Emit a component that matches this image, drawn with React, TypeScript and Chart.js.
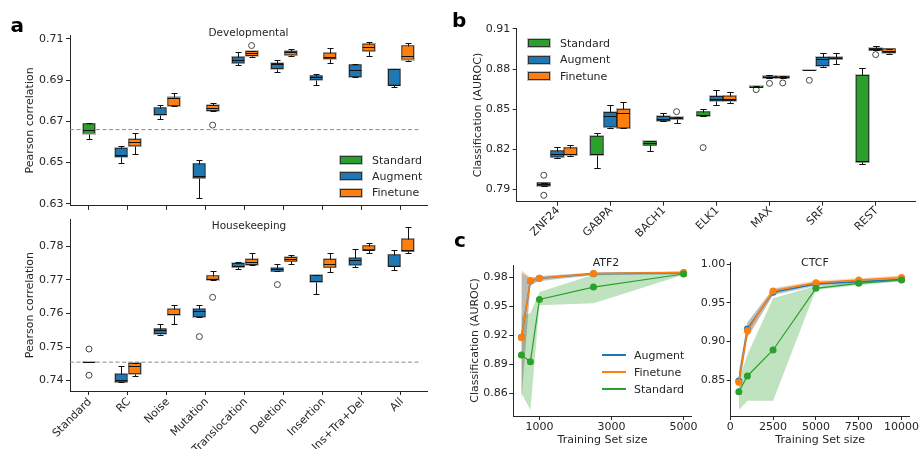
import React, { useEffect, useRef } from 'react';
import { Chart, registerables } from 'chart.js';

Chart.register(...registerables);

const FONT = "'DejaVu Sans', 'Liberation Sans', sans-serif";
const TEXT = '#262626';
const BLUE = '#1f77b4';
const ORANGE = '#ff7f0e';
const GREEN = '#2ca02c';

// ---------------- Panel a ----------------
const augmentationCategories = ['Standard', 'RC', 'Noise', 'Mutation', 'Translocation', 'Deletion', 'Insertion', 'Ins+Tra+Del', 'All'];

// box stats: [lower whisker, Q1, median, Q3, upper whisker]
const developmentalTicks = [0.63, 0.65, 0.67, 0.69, 0.71];
const developmentalBaseline = 0.666;
const developmentalStandard = [[0.6613, 0.6641, 0.666, 0.6689, 0.6694], null, null, null, null, null, null, null, null];
const developmentalAugment = [
  null,
  [0.6498, 0.6527, 0.6537, 0.657, 0.6581],
  [0.6713, 0.6733, 0.6738, 0.6767, 0.6781],
  [0.6329, 0.6424, 0.6433, 0.6495, 0.6513],
  [0.6975, 0.6982, 0.6997, 0.7013, 0.7037],
  [0.694, 0.6956, 0.6976, 0.6982, 0.6998],
  [0.6876, 0.6901, 0.6916, 0.6922, 0.6929],
  [0.6913, 0.6916, 0.6949, 0.6975, 0.6977],
  [0.6865, 0.6875, 0.6876, 0.6952, 0.6954],
];
const developmentalFinetune = [
  null,
  [0.6541, 0.658, 0.66, 0.6614, 0.6643],
  [0.6775, 0.6775, 0.6814, 0.6816, 0.6837],
  [0.6752, 0.6752, 0.6767, 0.6778, 0.6789],
  [0.7013, 0.7019, 0.7032, 0.704, 0.704],
  [0.7019, 0.7021, 0.7035, 0.7041, 0.7052],
  [0.6981, 0.7003, 0.7013, 0.7033, 0.7056],
  [0.7016, 0.704, 0.706, 0.7076, 0.7084],
  [0.6994, 0.7, 0.7016, 0.7068, 0.7079],
];
const developmentalStandardOutliers = [[], [], [], [], [], [], [], [], []];
const developmentalAugmentOutliers = [[], [], [], [], [], [], [], [], []];
const developmentalFinetuneOutliers = [[], [], [], [0.6682], [0.7068], [], [], [], []];

const housekeepingTicks = [0.74, 0.75, 0.76, 0.77, 0.78];
const housekeepingBaseline = 0.7455;
const housekeepingStandard = [[0.7455, 0.7455, 0.7455, 0.7455, 0.7455], null, null, null, null, null, null, null, null];
const housekeepingAugment = [
  null,
  [0.7395, 0.7395, 0.7403, 0.742, 0.7444],
  [0.7535, 0.754, 0.755, 0.7555, 0.7569],
  [0.759, 0.759, 0.7606, 0.7614, 0.7624],
  [0.7732, 0.7738, 0.774, 0.7749, 0.7752],
  [0.7725, 0.7725, 0.7733, 0.7736, 0.7748],
  [0.7658, 0.7694, 0.7696, 0.7714, 0.7714],
  [0.7737, 0.7744, 0.7759, 0.7766, 0.7792],
  [0.773, 0.774, 0.7742, 0.7775, 0.7788],
];
const housekeepingFinetune = [
  null,
  [0.7414, 0.742, 0.7443, 0.7452, 0.7453],
  [0.7569, 0.7596, 0.7599, 0.7614, 0.7624],
  [0.7701, 0.7701, 0.7703, 0.7713, 0.7725],
  [0.7744, 0.7745, 0.7752, 0.7762, 0.778],
  [0.7748, 0.7755, 0.7762, 0.7767, 0.7775],
  [0.7722, 0.7737, 0.7746, 0.7762, 0.778],
  [0.778, 0.7789, 0.779, 0.7802, 0.781],
  [0.7781, 0.7785, 0.7788, 0.7822, 0.7857],
];
const housekeepingStandardOutliers = [[0.7494, 0.7416], [], [], [], [], [], [], [], []];
const housekeepingAugmentOutliers = [[], [], [], [0.7531], [], [0.7686], [], [], []];
const housekeepingFinetuneOutliers = [[], [], [], [0.7648], [], [], [], [], []];

// ---------------- Panel b ----------------
const tfCategories = ['ZNF24', 'GABPA', 'BACH1', 'ELK1', 'MAX', 'SRF', 'REST'];
const tfTicks = [0.79, 0.82, 0.85, 0.88, 0.91];
const tfStandard = [
  [0.7925, 0.7925, 0.7937, 0.795, 0.795],
  [0.8057, 0.8157, 0.8162, 0.8299, 0.8319],
  [0.8189, 0.8229, 0.8244, 0.8259, 0.8259],
  [0.8449, 0.8449, 0.8459, 0.8481, 0.8499],
  [0.8663, 0.8663, 0.8668, 0.8673, 0.8673],
  [0.8793, 0.8793, 0.8793, 0.8793, 0.8793],
  [0.809, 0.8102, 0.811, 0.8753, 0.8806],
];
const tfAugment = [
  [0.8135, 0.814, 0.8164, 0.8189, 0.8214],
  [0.8359, 0.8364, 0.8446, 0.8476, 0.8531],
  [0.8411, 0.8411, 0.8424, 0.8446, 0.8474],
  [0.8529, 0.8561, 0.8576, 0.8596, 0.8641],
  [0.873, 0.8733, 0.8738, 0.8748, 0.8752],
  [0.8816, 0.8826, 0.8878, 0.8888, 0.8918],
  [0.894, 0.894, 0.8948, 0.8955, 0.897],
];
const tfFinetune = [
  [0.8147, 0.8157, 0.8164, 0.8212, 0.8234],
  [0.8357, 0.8357, 0.8474, 0.8501, 0.8551],
  [0.8399, 0.8424, 0.8434, 0.8441, 0.8441],
  [0.8544, 0.8564, 0.8579, 0.8599, 0.8626],
  [0.8733, 0.8733, 0.8741, 0.8746, 0.8748],
  [0.8838, 0.8873, 0.8883, 0.889, 0.8923],
  [0.8915, 0.8923, 0.8938, 0.8953, 0.8953],
];
const tfStandardOutliers = [[0.8005, 0.7855], [], [], [0.8212], [0.8646], [0.8716], []];
const tfAugmentOutliers = [[], [], [], [], [0.8693], [], [0.8908]];
const tfFinetuneOutliers = [[], [], [0.8481], [], [0.8696], [], []];

// ---------------- Panel c ----------------
const atf2Sizes = [500, 750, 1000, 2500, 5000];
const atf2XTicks = [1000, 3000, 5000];
const atf2YTicks = [0.86, 0.89, 0.92, 0.95, 0.98];
const atf2Augment = [0.918, 0.9762, 0.979, 0.9837, 0.9848];
const atf2AugmentLow = [0.855, 0.972, 0.976, 0.982, 0.983];
const atf2AugmentHigh = [0.985, 0.979, 0.981, 0.985, 0.986];
const atf2Finetune = [0.9178, 0.9765, 0.979, 0.9838, 0.985];
const atf2FinetuneLow = [0.85, 0.972, 0.977, 0.982, 0.984];
const atf2FinetuneHigh = [0.9875, 0.98, 0.981, 0.985, 0.986];
const atf2Standard = [0.8996, 0.8927, 0.9571, 0.9699, 0.9834];
const atf2StandardLow = [0.86, 0.8427, 0.951, 0.9531, 0.9825];
const atf2StandardHigh = [0.9403, 0.9428, 0.9647, 0.9825, 0.9845];

const ctcfSizes = [500, 1000, 2500, 5000, 7500, 10000];
const ctcfXTicks = [0, 2500, 5000, 7500, 10000];
const ctcfYTicks = [0.85, 0.9, 0.95, 1.0];
const ctcfAugment = [0.8491, 0.9163, 0.964, 0.9745, 0.9775, 0.9805];
const ctcfAugmentLow = [0.838, 0.906, 0.96, 0.972, 0.975, 0.978];
const ctcfAugmentHigh = [0.86, 0.925, 0.968, 0.977, 0.98, 0.983];
const ctcfFinetune = [0.8474, 0.9141, 0.9655, 0.9762, 0.9798, 0.983];
const ctcfFinetuneLow = [0.836, 0.904, 0.961, 0.974, 0.977, 0.98];
const ctcfFinetuneHigh = [0.862, 0.924, 0.969, 0.979, 0.982, 0.986];
const ctcfStandard = [0.8353, 0.8556, 0.8892, 0.969, 0.9754, 0.9797];
const ctcfStandardLow = [0.8116, 0.8236, 0.8236, 0.967, 0.973, 0.978];
const ctcfStandardHigh = [0.85, 0.883, 0.956, 0.972, 0.977, 0.981];

// ---------------- helpers ----------------
const boxPlugin = {
  id: 'boxWhiskers',
  beforeDatasetsDraw(chart: any) {
    const ctx = chart.ctx;
    chart.data.datasets.forEach((ds: any, di: number) => {
      if (!ds.stats) return;
      const meta = chart.getDatasetMeta(di);
      meta.data.forEach((el: any) => {
        const p = el.getProps(['x', 'y', 'base', 'width'], true);
        const t = Math.round(Math.min(p.y, p.base));
        const b = Math.round(Math.max(p.y, p.base));
        const l = Math.round(p.x - p.width / 2);
        const w = Math.round(p.width);
        ctx.save();
        ctx.strokeStyle = 'rgba(140,140,140,0.55)';
        ctx.lineWidth = 1;
        ctx.strokeRect(l - 0.5, t - 0.5, w + 1, b - t + 1);
        ctx.restore();
      });
    });
  },
  afterDatasetsDraw(chart: any) {
    const ctx = chart.ctx;
    const ys = chart.scales.y;
    chart.data.datasets.forEach((ds: any, di: number) => {
      if (!ds.stats) return;
      const meta = chart.getDatasetMeta(di);
      meta.data.forEach((el: any, i: number) => {
        const st = ds.stats[i];
        const { x, width } = el.getProps(['x', 'width'], true);
        const py = (v: number) => Math.round(ys.getPixelForValue(v)) + 0.5;
        const cx = Math.round(x) + 0.5;
        const cap = width / 4;
        ctx.save();
        ctx.strokeStyle = '#111';
        ctx.lineWidth = 1;
        ctx.beginPath();
        ctx.moveTo(cx, py(st[3]));
        ctx.lineTo(cx, py(st[4]));
        ctx.moveTo(cx - cap, py(st[4]));
        ctx.lineTo(cx + cap, py(st[4]));
        ctx.moveTo(cx, py(st[1]));
        ctx.lineTo(cx, py(st[0]));
        ctx.moveTo(cx - cap, py(st[0]));
        ctx.lineTo(cx + cap, py(st[0]));
        ctx.stroke();
        ctx.beginPath();
        ctx.moveTo(x - width / 2, py(st[2]));
        ctx.lineTo(x + width / 2, py(st[2]));
        ctx.stroke();
        ctx.restore();
      });
    });
  },
};

type BoxSeries = { stats: (number[] | null)[]; outliers: number[][]; offset: number; color: string };
type BoxSpec = {
  left: number; top: number; width: number; height: number;
  padTop: number; padRight: number; yWidth: number; xHeight: number;
  xMin: number; xMax: number; yMin: number; yMax: number;
  categories: string[]; showXLabels: boolean; xLabelPad: number; xLabelShift: number;
  yTicks: number[]; yTitle: string; yTitlePad: number;
  series: BoxSeries[]; boxWidth: number; baseline?: number; baselineEnd?: number;
};

function axisCommon() {
  return {
    grid: { display: true, drawOnChartArea: false, drawTicks: true, tickLength: 4, color: TEXT, lineWidth: 1 },
    border: { display: true, color: TEXT, width: 1 },
  };
}

function BoxPanel({ spec }: { spec: BoxSpec }) {
  const ref = useRef<HTMLCanvasElement>(null);
  useEffect(() => {
    const datasets: any[] = [];
    spec.series.forEach((s) => {
      const data: any[] = [];
      const stats: number[][] = [];
      s.stats.forEach((st, i) => {
        if (st) {
          data.push({ x: i + s.offset, y: [st[1], st[3]] });
          stats.push(st);
        }
      });
      datasets.push({
        type: 'bar', data, stats, backgroundColor: s.color, borderColor: '#222', borderWidth: 1,
        borderSkipped: false, grouped: false, barThickness: spec.boxWidth, maxBarThickness: spec.boxWidth, order: 3,
      });
      const od: any[] = [];
      s.outliers.forEach((arr, i) => arr.forEach((v) => od.push({ x: i + s.offset, y: v })));
      if (od.length) {
        datasets.push({
          type: 'scatter', data: od, pointRadius: 3, pointBorderColor: '#444', pointBackgroundColor: 'rgba(0,0,0,0)',
          pointBorderWidth: 1, showLine: false, order: 1,
        });
      }
    });
    if (spec.baseline != null) {
      datasets.push({
        type: 'line', data: [{ x: spec.xMin, y: spec.baseline }, { x: spec.baselineEnd, y: spec.baseline }],
        borderColor: '#8a8a8a', borderWidth: 1, borderDash: [4, 2.5], pointRadius: 0, fill: false, order: 9,
      });
    }
    const chart = new Chart(ref.current as HTMLCanvasElement, {
      type: 'bar',
      data: { datasets },
      options: {
        animation: false,
        responsive: false,
        devicePixelRatio: 1,
        events: [],
        layout: { padding: { left: 0, top: spec.padTop, right: spec.padRight, bottom: 0 } },
        plugins: { legend: { display: false }, tooltip: { enabled: false } },
        scales: {
          x: {
            type: 'linear', min: spec.xMin, max: spec.xMax, offset: false,
            afterBuildTicks: (s: any) => { s.ticks = spec.categories.map((_, i) => ({ value: i })); },
            afterFit: (s: any) => { s.height = spec.xHeight; },
            ticks: {
              display: spec.showXLabels, autoSkip: false, minRotation: 45, maxRotation: 45, padding: spec.xLabelPad,
              labelOffset: spec.xLabelShift,
              color: TEXT, font: { family: FONT, size: 11 },
              callback: (v: any) => spec.categories[Math.round(Number(v))],
            },
            ...axisCommon(),
            grid: { ...axisCommon().grid, offset: false },
          },
          y: {
            type: 'linear', min: spec.yMin, max: spec.yMax,
            afterBuildTicks: (s: any) => { s.ticks = spec.yTicks.map((v) => ({ value: v })); },
            afterFit: (s: any) => { s.width = spec.yWidth; },
            ticks: { padding: 2.5, color: TEXT, font: { family: FONT, size: 11 }, callback: (v: any) => Number(v).toFixed(2) },
            ...axisCommon(),
            title: { display: true, text: spec.yTitle, color: TEXT, font: { family: FONT, size: 11 }, padding: { top: spec.yTitlePad, bottom: 0 } },
          },
        },
      } as any,
      plugins: [boxPlugin],
    } as any);
    return () => chart.destroy();
  }, []);
  return (
    <canvas ref={ref} width={spec.width} height={spec.height}
      style={{ position: 'absolute', left: spec.left, top: spec.top, width: spec.width, height: spec.height }} />
  );
}

type LineSeries = { mean: number[]; low: number[]; high: number[]; color: string; band: string; lineWidth: number; order: number };
type LineSpec = {
  left: number; top: number; width: number; height: number;
  padTop: number; padRight: number; yWidth: number; xHeight: number;
  xMin: number; xMax: number; yMin: number; yMax: number;
  sizes: number[]; xTicks: number[]; yTicks: number[]; yTitle?: string; yTitlePad: number; xTitle: string; xTitlePad: number;
  series: LineSeries[];
};

function LinePanel({ spec }: { spec: LineSpec }) {
  const ref = useRef<HTMLCanvasElement>(null);
  useEffect(() => {
    const datasets: any[] = [];
    spec.series.forEach((s) => {
      datasets.push({
        type: 'line', data: spec.sizes.map((x, i) => ({ x, y: s.low[i] })), borderWidth: 0, pointRadius: 0, fill: false, order: 20,
      });
      datasets.push({
        type: 'line', data: spec.sizes.map((x, i) => ({ x, y: s.high[i] })), borderWidth: 0, pointRadius: 0,
        fill: '-1', backgroundColor: s.band, order: 20,
      });
    });
    spec.series.forEach((s) => {
      datasets.push({
        type: 'line', data: spec.sizes.map((x, i) => ({ x, y: s.mean[i] })), borderColor: s.color, borderWidth: s.lineWidth,
        pointRadius: 3.5, pointBackgroundColor: s.color, pointBorderColor: s.color, pointBorderWidth: 0, fill: false,
        tension: 0, order: s.order,
      });
    });
    const chart = new Chart(ref.current as HTMLCanvasElement, {
      type: 'line',
      data: { datasets },
      options: {
        animation: false,
        responsive: false,
        devicePixelRatio: 1,
        events: [],
        layout: { padding: { left: 0, top: spec.padTop, right: spec.padRight, bottom: 0 } },
        plugins: { legend: { display: false }, tooltip: { enabled: false }, filler: { drawTime: 'beforeDatasetsDraw' } },
        scales: {
          x: {
            type: 'linear', min: spec.xMin, max: spec.xMax,
            afterBuildTicks: (s: any) => { s.ticks = spec.xTicks.map((v) => ({ value: v })); },
            afterFit: (s: any) => { s.height = spec.xHeight; },
            ticks: { padding: 0.5, maxRotation: 0, autoSkip: false, color: TEXT, font: { family: FONT, size: 11 }, callback: (v: any) => String(v) },
            ...axisCommon(),
            title: { display: true, text: spec.xTitle, color: TEXT, font: { family: FONT, size: 11 }, padding: { top: 0, bottom: spec.xTitlePad } },
          },
          y: {
            type: 'linear', min: spec.yMin, max: spec.yMax,
            afterBuildTicks: (s: any) => { s.ticks = spec.yTicks.map((v) => ({ value: v })); },
            afterFit: (s: any) => { s.width = spec.yWidth; },
            ticks: { padding: 1.5, color: TEXT, font: { family: FONT, size: 11 }, callback: (v: any) => Number(v).toFixed(2) },
            ...axisCommon(),
            title: { display: !!spec.yTitle, text: spec.yTitle || '', color: TEXT, font: { family: FONT, size: 11 }, padding: { top: spec.yTitlePad, bottom: 0 } },
          },
        },
      } as any,
    } as any);
    return () => chart.destroy();
  }, []);
  return (
    <canvas ref={ref} width={spec.width} height={spec.height}
      style={{ position: 'absolute', left: spec.left, top: spec.top, width: spec.width, height: spec.height }} />
  );
}

function Label({ x, y, size, children, bold, align }: any) {
  const style: any = {
    position: 'absolute', top: y - size / 2, fontSize: size, lineHeight: `${size}px`, fontFamily: FONT,
    color: TEXT, whiteSpace: 'nowrap', fontWeight: bold ? 'bold' : 'normal',
  };
  if (align === 'center') {
    style.left = x - 200; style.width = 400; style.textAlign = 'center';
  } else {
    style.left = x;
  }
  return <div style={style}>{children}</div>;
}

function PatchLegend({ x, y, items }: any) {
  return (
    <>
      {items.map((it: any, i: number) => (
        <React.Fragment key={it.label}>
          <div style={{
            position: 'absolute', left: x, top: y + i * 16.4 - 4, width: 22, height: 8, boxSizing: 'border-box',
            background: it.color, border: '1px solid #333', boxShadow: '0 0 0 1px rgba(140,140,140,0.55)',
          }} />
          <Label x={x + 32} y={y + i * 16.4} size={11}>{it.label}</Label>
        </React.Fragment>
      ))}
    </>
  );
}

function LineLegend({ x, y, items }: any) {
  return (
    <>
      {items.map((it: any, i: number) => (
        <React.Fragment key={it.label}>
          <div style={{ position: 'absolute', left: x, top: y + i * 17 - 1, width: 24, height: 2, background: it.color }} />
          <Label x={x + 32} y={y + i * 17} size={11}>{it.label}</Label>
        </React.Fragment>
      ))}
    </>
  );
}

const devSpec: BoxSpec = {
  left: 0, top: 0, width: 440, height: 215, padTop: 35, padRight: 13, yWidth: 70, xHeight: 6,
  xMin: -0.487, xMax: 8.667, yMin: 0.629, yMax: 0.7119,
  categories: augmentationCategories, showXLabels: false, xLabelPad: 2, xLabelShift: 0,
  yTicks: developmentalTicks, yTitle: 'Pearson correlation', yTitlePad: 23.4,
  boxWidth: 12, baseline: developmentalBaseline, baselineEnd: 8.5,
  series: [
    { stats: developmentalStandard, outliers: developmentalStandardOutliers, offset: 0, color: GREEN },
    { stats: developmentalAugment, outliers: developmentalAugmentOutliers, offset: -0.17, color: BLUE },
    { stats: developmentalFinetune, outliers: developmentalFinetuneOutliers, offset: 0.17, color: ORANGE },
  ],
};

const houseSpec: BoxSpec = {
  left: 0, top: 210, width: 440, height: 239, padTop: 6, padRight: 13, yWidth: 70, xHeight: 58,
  xMin: -0.487, xMax: 8.667, yMin: 0.7369, yMax: 0.7881,
  categories: augmentationCategories, showXLabels: true, xLabelPad: 0.5, xLabelShift: 1,
  yTicks: housekeepingTicks, yTitle: 'Pearson correlation', yTitlePad: 23.4,
  boxWidth: 12, baseline: housekeepingBaseline, baselineEnd: 8.52,
  series: [
    { stats: housekeepingStandard, outliers: housekeepingStandardOutliers, offset: 0, color: GREEN },
    { stats: housekeepingAugment, outliers: housekeepingAugmentOutliers, offset: -0.17, color: BLUE },
    { stats: housekeepingFinetune, outliers: housekeepingFinetuneOutliers, offset: 0.17, color: ORANGE },
  ],
};

const tfSpec: BoxSpec = {
  left: 440, top: 0, width: 480, height: 245, padTop: 28.3, padRight: 2, yWidth: 76.7, xHeight: 43.3,
  xMin: -0.76, xMax: 6.74, yMin: 0.7807, yMax: 0.9105,
  categories: tfCategories, showXLabels: true, xLabelPad: -1.5, xLabelShift: 1,
  yTicks: tfTicks, yTitle: 'Classification (AUROC)', yTitlePad: 31.4,
  boxWidth: 13,
  series: [
    { stats: tfStandard, outliers: tfStandardOutliers, offset: -0.25, color: GREEN },
    { stats: tfAugment, outliers: tfAugmentOutliers, offset: 0, color: BLUE },
    { stats: tfFinetune, outliers: tfFinetuneOutliers, offset: 0.25, color: ORANGE },
  ],
};

const bandBlue = 'rgba(31,119,180,0.3)';
const bandOrange = 'rgba(255,127,14,0.3)';
const bandGreen = 'rgba(44,160,44,0.3)';

const atf2Spec: LineSpec = {
  left: 450, top: 245, width: 250, height: 204, padTop: 20, padRight: 8.3, yWidth: 63.3, xHeight: 33,
  xMin: 275, xMax: 5225, yMin: 0.8365, yMax: 0.9927,
  sizes: atf2Sizes, xTicks: atf2XTicks, yTicks: atf2YTicks, yTitle: 'Classification (AUROC)', yTitlePad: 18.7,
  xTitle: 'Training Set size', xTitlePad: 2.4,
  series: [
    { mean: atf2Augment, low: atf2AugmentLow, high: atf2AugmentHigh, color: BLUE, band: bandBlue, lineWidth: 1.5, order: 3 },
    { mean: atf2Finetune, low: atf2FinetuneLow, high: atf2FinetuneHigh, color: ORANGE, band: bandOrange, lineWidth: 1.5, order: 2 },
    { mean: atf2Standard, low: atf2StandardLow, high: atf2StandardHigh, color: GREEN, band: bandGreen, lineWidth: 1.2, order: 1 },
  ],
};

const ctcfSpec: LineSpec = {
  left: 695, top: 245, width: 225, height: 204, padTop: 17.7, padRight: 10, yWidth: 35.7, xHeight: 33,
  xMin: 25, xMax: 10475, yMin: 0.8038, yMax: 1.0021,
  sizes: ctcfSizes, xTicks: ctcfXTicks, yTicks: ctcfYTicks, yTitlePad: 0,
  xTitle: 'Training Set size', xTitlePad: 2.4,
  series: [
    { mean: ctcfAugment, low: ctcfAugmentLow, high: ctcfAugmentHigh, color: BLUE, band: bandBlue, lineWidth: 1.5, order: 3 },
    { mean: ctcfFinetune, low: ctcfFinetuneLow, high: ctcfFinetuneHigh, color: ORANGE, band: bandOrange, lineWidth: 1.5, order: 2 },
    { mean: ctcfStandard, low: ctcfStandardLow, high: ctcfStandardHigh, color: GREEN, band: bandGreen, lineWidth: 1.2, order: 1 },
  ],
};

const patchItems = [
  { label: 'Standard', color: GREEN },
  { label: 'Augment', color: BLUE },
  { label: 'Finetune', color: ORANGE },
];
const lineItems = [
  { label: 'Augment', color: BLUE },
  { label: 'Finetune', color: ORANGE },
  { label: 'Standard', color: GREEN },
];

export default function App() {
  return (
    <div style={{ position: 'absolute', left: 0, top: 0, width: 920, height: 449, overflow: 'hidden', background: '#fff', fontFamily: FONT }}>
      <BoxPanel spec={devSpec} />
      <BoxPanel spec={houseSpec} />
      <BoxPanel spec={tfSpec} />
      <LinePanel spec={atf2Spec} />
      <LinePanel spec={ctcfSpec} />
      <Label x={248.5} y={32.7} size={10.5} align="center">Developmental</Label>
      <Label x={249} y={225.3} size={10.5} align="center">Housekeeping</Label>
      <Label x={606} y={262.3} size={11} align="center">ATF2</Label>
      <Label x={815} y={262.3} size={11} align="center">CTCF</Label>
      <PatchLegend x={340} y={160} items={patchItems} />
      <PatchLegend x={528} y={43.3} items={patchItems} />
      <LineLegend x={602} y={355} items={lineItems} />
      <div style={{ position: 'absolute', left: 10.5, top: 14.8, fontSize: 20, lineHeight: '20px', fontWeight: 'bold', fontFamily: FONT, color: '#000' }}>a</div>
      <div style={{ position: 'absolute', left: 452, top: 9.8, fontSize: 20, lineHeight: '20px', fontWeight: 'bold', fontFamily: FONT, color: '#000' }}>b</div>
      <div style={{ position: 'absolute', left: 454, top: 229.8, fontSize: 20, lineHeight: '20px', fontWeight: 'bold', fontFamily: FONT, color: '#000' }}>c</div>
    </div>
  );
}
